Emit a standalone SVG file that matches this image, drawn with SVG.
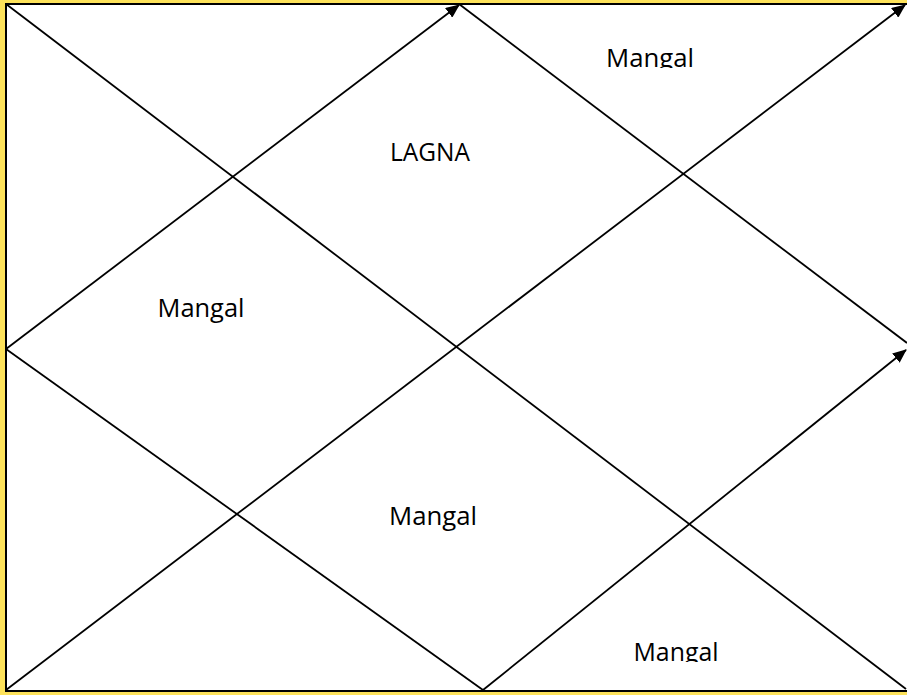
<svg xmlns="http://www.w3.org/2000/svg" width="907" height="695" viewBox="0 0 907 695">
  <style>
    .ln { stroke: #000; stroke-width: 1.8; fill: none; }
    .lbl { font-family: "Open Sans", "Liberation Sans", sans-serif; font-size: 26px; fill: #000; text-anchor: middle; }
  </style>
  <defs>
    <marker id="arr" viewBox="0 0 14 12" refX="13" refY="6" markerWidth="14" markerHeight="12" markerUnits="userSpaceOnUse" orient="auto">
      <path d="M0,0 L14,6 L0,12 Z" fill="#000"/>
    </marker>
    <clipPath id="clipTop"><rect x="0" y="0" width="907" height="68"/></clipPath>
    <clipPath id="clipBot"><rect x="0" y="0" width="907" height="662"/></clipPath>
  </defs>
  <rect x="0" y="0" width="907" height="695" fill="#FDE25A"/>
  <rect x="6" y="4" width="905" height="687" fill="#FFFFFF" stroke="#000" stroke-width="2"/>
  <g id="connectors">
    <line class="ln" x1="6" y1="4" x2="906" y2="689"/>
    <line class="ln" x1="6" y1="690" x2="905" y2="5" marker-end="url(#arr)"/>
    <line class="ln" x1="6" y1="349" x2="459" y2="5" marker-end="url(#arr)"/>
    <line class="ln" x1="459" y1="4" x2="907" y2="343"/>
    <line class="ln" x1="6" y1="349" x2="483" y2="690"/>
    <line class="ln" x1="483" y1="690" x2="906" y2="350" marker-end="url(#arr)"/>
  </g>
  <g id="house-top-right" clip-path="url(#clipTop)">
    <text class="lbl" x="650" y="67" textLength="88" lengthAdjust="spacingAndGlyphs">Mangal</text>
  </g>
  <g id="house-lagna">
    <text class="lbl" x="430" y="161" textLength="80" lengthAdjust="spacingAndGlyphs">LAGNA</text>
  </g>
  <g id="house-left">
    <text class="lbl" x="201" y="317" textLength="87" lengthAdjust="spacingAndGlyphs">Mangal</text>
  </g>
  <g id="house-center-bottom">
    <text class="lbl" x="433" y="525" textLength="88" lengthAdjust="spacingAndGlyphs">Mangal</text>
  </g>
  <g id="house-bottom-right" clip-path="url(#clipBot)">
    <text class="lbl" x="676" y="661" textLength="85" lengthAdjust="spacingAndGlyphs">Mangal</text>
  </g>
</svg>
